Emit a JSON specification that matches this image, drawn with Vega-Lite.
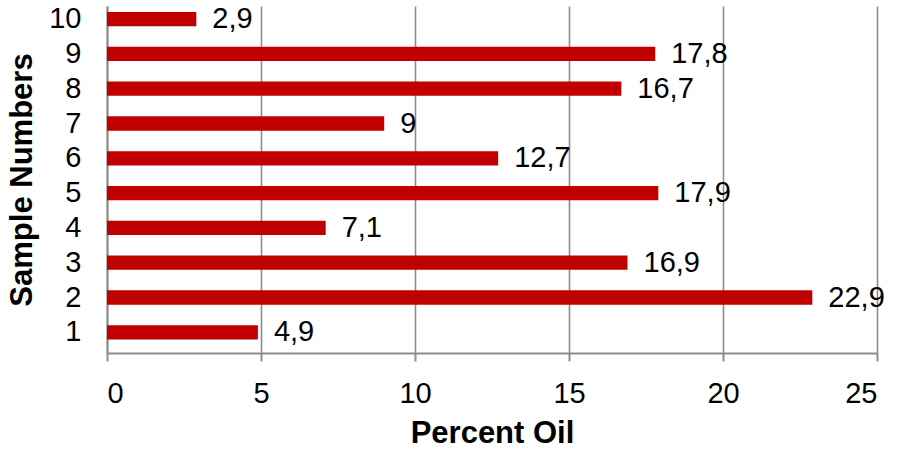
{
  "$schema": "https://vega.github.io/schema/vega-lite/v6.json",
  "autosize": "none",
  "width": 770,
  "height": 347,
  "padding": {"left": 107, "top": 6, "right": 20, "bottom": 96},
  "background": "white",
  "config": {
    "font": "Liberation Sans",
    "view": {"stroke": null},
    "locale": {
      "number": {"decimal": ",", "thousands": ".", "grouping": [3], "currency": ["", " €"]}
    }
  },
  "data": {
    "values": [
      {"sample": 1, "oil": 4.9},
      {"sample": 2, "oil": 22.9},
      {"sample": 3, "oil": 16.9},
      {"sample": 4, "oil": 7.1},
      {"sample": 5, "oil": 17.9},
      {"sample": 6, "oil": 12.7},
      {"sample": 7, "oil": 9},
      {"sample": 8, "oil": 16.7},
      {"sample": 9, "oil": 17.8},
      {"sample": 10, "oil": 2.9}
    ]
  },
  "encoding": {
    "y": {
      "field": "sample",
      "type": "ordinal",
      "sort": "descending",
      "scale": {"paddingInner": 0.589, "paddingOuter": 0.28, "align": 0.306, "round": false},
      "axis": {
        "title": "Sample Numbers",
        "titleFontSize": 31,
        "titleFontWeight": "bold",
        "titleColor": "black",
        "titlePadding": 10,
        "labelFontSize": 29,
        "labelColor": "black",
        "labelPadding": 26,
        "ticks": false,
        "domain": true,
        "domainColor": "#8c8c8c",
        "domainWidth": 2,
        "grid": false
      }
    },
    "x": {
      "field": "oil",
      "type": "quantitative",
      "scale": {"domain": [0, 25], "nice": false},
      "axis": {
        "title": "Percent Oil",
        "titleFontSize": 31,
        "titleFontWeight": "bold",
        "titleColor": "black",
        "titlePadding": 10,
        "values": [0, 5, 10, 15, 20, 25],
        "labelFontSize": 29,
        "labelColor": "black",
        "labelPadding": 18,
        "tickSize": 8,
        "tickColor": "#8c8c8c",
        "tickWidth": 2,
        "domainColor": "#8c8c8c",
        "domainWidth": 2,
        "grid": true,
        "gridColor": "#8c8c8c",
        "gridWidth": 1.6
      }
    }
  },
  "layer": [
    {
      "mark": {"type": "bar", "color": "#c00000"}
    },
    {
      "mark": {"type": "text", "align": "left", "baseline": "middle", "dx": 16, "fontSize": 29, "color": "black"},
      "encoding": {
        "text": {"field": "oil", "type": "quantitative", "format": "~g"}
      }
    }
  ]
}
